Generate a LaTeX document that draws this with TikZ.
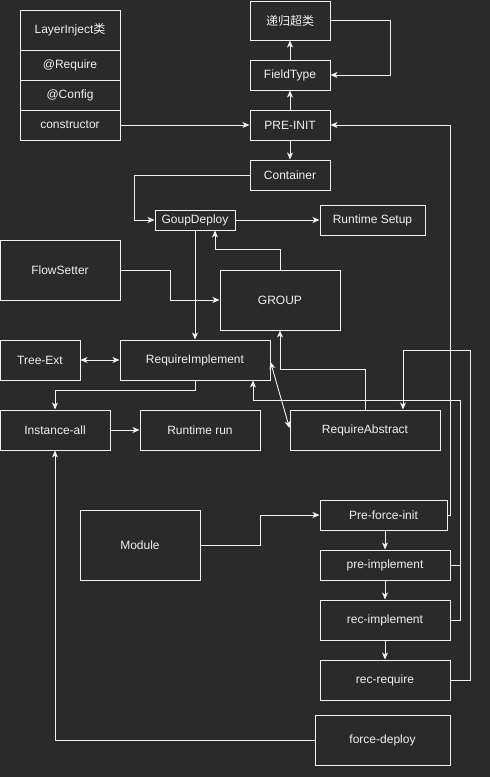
\documentclass[tikz,border=0pt]{standalone}
\usepackage{fontspec}
\setmainfont{Liberation Sans}
\newfontfamily\cjk{Noto Sans CJK SC}
\usetikzlibrary{arrows.meta,calc}
\definecolor{bgc}{HTML}{2A2A2A}
\definecolor{fgc}{HTML}{F0F0F0}
\begin{document}
\begin{tikzpicture}[x=1pt,y=-1pt,
  box/.style={draw=fgc,fill=bgc,text=fgc,line width=1pt,inner sep=0pt,font=\fontsize{12}{14}\selectfont},
  arr/.style={draw=fgc,line width=0.9pt,-{Stealth[length=7pt,width=6pt,inset=2pt]}},
  arrtwo/.style={draw=fgc,line width=0.9pt,{Stealth[length=7pt,width=6pt,inset=2pt]}-{Stealth[length=7pt,width=6pt,inset=2pt]}},
  ln/.style={draw=fgc,line width=0.9pt}]
\fill[bgc] (0,0) rectangle (490,777);
\useasboundingbox (0,0) rectangle (490,777);
% left class box
\node[box,minimum width=100,minimum height=40] (li) at (70,30) {LayerInject{\cjk 类}};
\node[box,minimum width=100,minimum height=30] (req) at (70,65) {@Require};
\node[box,minimum width=100,minimum height=30] (cfg) at (70,95) {@Config};
\node[box,minimum width=100,minimum height=30] (ctor) at (70,125) {constructor};
% top column
\node[box,minimum width=80,minimum height=39] (sup) at (290,20.5) {\cjk 递归超类};
\node[box,minimum width=80,minimum height=30] (ft) at (290,75) {FieldType};
\node[box,minimum width=80,minimum height=30] (pre) at (290,125) {PRE-INIT};
\node[box,minimum width=80,minimum height=30] (cont) at (290,175) {Container};
\node[box,minimum width=80,minimum height=20] (gd) at (195,220) {GoupDeploy};
\node[box,minimum width=105,minimum height=30] (rs) at (372.5,220) {Runtime Setup};
\node[box,minimum width=120,minimum height=60] (flow) at (60,270) {FlowSetter};
\node[box,minimum width=120,minimum height=60] (group) at (280,300) {GROUP};
\node[box,minimum width=80,minimum height=40] (tree) at (40,360) {Tree-Ext};
\node[box,minimum width=150,minimum height=40] (rimpl) at (195,360) {RequireImplement};
\node[box,minimum width=110,minimum height=40] (inst) at (55,430) {Instance-all};
\node[box,minimum width=120,minimum height=40] (rrun) at (200,430) {Runtime run};
\node[box,minimum width=150,minimum height=40] (rabs) at (365,430) {RequireAbstract};
\node[box,minimum width=120,minimum height=70] (mod) at (140,545) {Module};
\node[box,minimum width=127,minimum height=30] (pfi) at (383.5,515) {Pre-force-init};
\node[box,minimum width=130,minimum height=30] (pimpl) at (385,565) {pre-implement};
\node[box,minimum width=130,minimum height=40] (rimp) at (385,620) {rec-implement};
\node[box,minimum width=130,minimum height=40] (rreq) at (385,680) {rec-require};
\node[box,minimum width=135,minimum height=50] (fd) at (382.5,740) {force-deploy};
% helper coordinates
\coordinate (gdin) at ([xshift=20pt]gd.south);
\coordinate (riin) at ([xshift=58pt]rimpl.south);
\coordinate (rain) at ([xshift=38pt]rabs.north);
\coordinate (pfiout) at ([xshift=1.5pt]pfi.south);
% connectors
\draw[arr] (ft) -- (sup);
\draw[arr] (sup.east) -- ++(60,0) |- (ft.east);
\draw[arr] (pre) -- (ft);
\draw[arr] (ctor) -- (pre);
\draw[arr] (pre) -- (cont);
\draw[arr] (cont.west) -- ++(-115,0) |- (gd.west);
\draw[arr] (gd) -- (rs);
\draw[arr] (group.north) -- ++(0,-20) -| (gdin);
\draw[arr] (flow.east) -- ++(50,0) |- (group.west);
\draw[arr] (gd.south) -- (rimpl.north);
\draw[arrtwo] (tree) -- (rimpl);
\draw[arr] (rimpl.south) -- ++(0,10) -| (inst.north);
\draw[arr] (inst) -- (rrun);
\draw[arrtwo] ([yshift=-2pt]rimpl.east) -- ([yshift=2pt]rabs.west);
\draw[arr] (rabs.north) -- ++(0,-40) -| (group.south);
\draw[arr] (pimpl.east) -- ++(10,0) -- ++(0,-165) -| (riin);
\draw[ln] (rimp.east) -- ++(10,0) -- ++(0,-55);
\draw[arr] (rreq.east) -- ++(20,0) -- ++(0,-330) -| (rain);
\draw[arr] (pfi.east) -- ++(3,0) |- (pre.east);
\draw[arr] (mod.east) -- ++(60,0) |- (pfi.west);
\draw[arr] (pfiout) -- (pimpl.north);
\draw[arr] (pimpl) -- (rimp);
\draw[arr] (rimp) -- (rreq);
\draw[arr] (fd.west) -| (inst.south);
\end{tikzpicture}
\end{document}
